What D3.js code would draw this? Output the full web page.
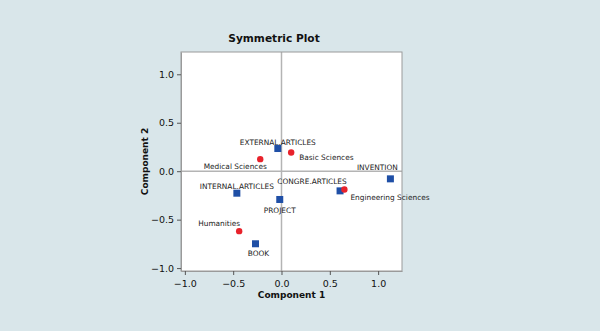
<!DOCTYPE html>
<html>
<head>
<meta charset="utf-8">
<script src="https://cdn.jsdelivr.net/npm/d3@7"></script>
<style>
  html, body { margin: 0; padding: 0; background: #d9e6ea; }
  svg { display: block; }
</style>
</head>
<body>
<script>
// Row categories (disciplines) – red circles
const rowNames = ["Medical Sciences", "Basic Sciences", "Engineering Sciences", "Humanities"];
const rowX = [-0.22, 0.10, 0.651, -0.438];
const rowY = [0.124, 0.193, -0.189, -0.619];

// Column categories (output types) – blue squares
const colNames = ["EXTERNAL.ARTICLES", "INVENTION", "CONGRE.ARTICLES", "INTERNAL.ARTICLES", "PROJECT", "BOOK"];
const colX = [-0.038, 1.127, 0.606, -0.462, -0.018, -0.269];
const colY = [0.234, -0.079, -0.203, -0.227, -0.292, -0.749];

const xTicks = [-1.0, -0.5, 0.0, 0.5, 1.0];
const yTicks = [-1.0, -0.5, 0.0, 0.5, 1.0];

const W = 600, H = 331;
const pLeft = 181, pRight = 402, pTop = 52, pBottom = 271;

const svg = d3.select("body").append("svg")
  .attr("width", W).attr("height", H);

const x = d3.scaleLinear().domain([-1.04, 1.247]).range([pLeft, pRight]);
const y = d3.scaleLinear().domain([-1.03, 1.23]).range([pBottom, pTop]);

// plot area
svg.append("rect")
  .attr("x", pLeft).attr("y", pTop)
  .attr("width", pRight - pLeft).attr("height", pBottom - pTop)
  .attr("fill", "#ffffff");

// zero reference lines
svg.append("line")
  .attr("x1", x(0)).attr("x2", x(0)).attr("y1", pTop).attr("y2", pBottom)
  .attr("stroke", "#b4b4b4").attr("stroke-width", 1.5);
svg.append("line")
  .attr("x1", pLeft).attr("x2", pRight).attr("y1", y(0)).attr("y2", y(0))
  .attr("stroke", "#b4b4b4").attr("stroke-width", 1.5);

// frame
svg.append("rect")
  .attr("x", pLeft).attr("y", pTop)
  .attr("width", pRight - pLeft).attr("height", pBottom - pTop)
  .attr("fill", "none").attr("stroke", "#9a9a9a").attr("stroke-width", 1);

const fmt = d3.format(".1f");
const font = "DejaVu Sans, Verdana, sans-serif";

const xAxis = svg.append("g")
  .attr("transform", `translate(0,${pBottom})`)
  .call(d3.axisBottom(x).tickValues(xTicks).tickFormat(fmt).tickSize(4).tickSizeOuter(0));
const yAxis = svg.append("g")
  .attr("transform", `translate(${pLeft},0)`)
  .call(d3.axisLeft(y).tickValues(yTicks).tickFormat(fmt).tickSize(4).tickSizeOuter(0));

[xAxis, yAxis].forEach(a => {
  a.select(".domain").attr("stroke", "#9a9a9a");
  a.selectAll(".tick line").attr("stroke", "#555");
  a.selectAll(".tick text")
    .attr("fill", "#111")
    .style("font-family", font)
    .style("font-size", "9.5px");
});
xAxis.selectAll(".tick text").attr("dy", "0.9em");

// titles
svg.append("text")
  .attr("x", 274).attr("y", 42)
  .attr("text-anchor", "middle")
  .style("font-family", font)
  .style("font-weight", "bold")
  .style("font-size", "10.6px")
  .attr("fill", "#111")
  .text("Symmetric Plot");

svg.append("text")
  .attr("x", (pLeft + pRight) / 2).attr("y", 298)
  .attr("text-anchor", "middle")
  .style("font-family", font)
  .style("font-weight", "bold")
  .style("font-size", "9px")
  .attr("fill", "#111")
  .text("Component 1");

svg.append("text")
  .attr("transform", `translate(148,${(pTop + pBottom) / 2}) rotate(-90)`)
  .attr("text-anchor", "middle")
  .style("font-family", font)
  .style("font-weight", "bold")
  .style("font-size", "9px")
  .attr("fill", "#111")
  .text("Component 2");

// label placement offsets (dx, dy, anchor) per point
const rowLab = [
  { dx: -25, dy: 10, a: "middle" },
  { dx: 8, dy: 8, a: "start" },
  { dx: 6, dy: 10, a: "start" },
  { dx: -20, dy: -5, a: "middle" }
];
const colLab = [
  { dx: 0, dy: -4, a: "middle" },
  { dx: -13, dy: -9, a: "middle" },
  { dx: -28, dy: -7, a: "middle" },
  { dx: 0, dy: -4, a: "middle" },
  { dx: 0, dy: 14, a: "middle" },
  { dx: 3, dy: 12, a: "middle" }
];

const labelStyle = sel => sel
  .style("font-family", font)
  .style("font-size", "7.4px")
  .attr("fill", "#222");

// columns: squares
const cols = colNames.map((n, i) => ({ n, x: colX[i], y: colY[i], l: colLab[i] }));
svg.append("g").selectAll("rect").data(cols).join("rect")
  .attr("x", d => x(d.x) - 3.5).attr("y", d => y(d.y) - 3.5)
  .attr("width", 7).attr("height", 7)
  .attr("fill", "#1f4fa6");
svg.append("g").selectAll("text").data(cols).join("text")
  .attr("x", d => x(d.x) + d.l.dx).attr("y", d => y(d.y) + d.l.dy)
  .attr("text-anchor", d => d.l.a)
  .call(labelStyle)
  .text(d => d.n);

// rows: circles
const rows = rowNames.map((n, i) => ({ n, x: rowX[i], y: rowY[i], l: rowLab[i] }));
svg.append("g").selectAll("circle").data(rows).join("circle")
  .attr("cx", d => x(d.x)).attr("cy", d => y(d.y)).attr("r", 3.2)
  .attr("fill", "#e8222b");
svg.append("g").selectAll("text").data(rows).join("text")
  .attr("x", d => x(d.x) + d.l.dx).attr("y", d => y(d.y) + d.l.dy)
  .attr("text-anchor", d => d.l.a)
  .call(labelStyle)
  .text(d => d.n);
</script>
</body>
</html>
